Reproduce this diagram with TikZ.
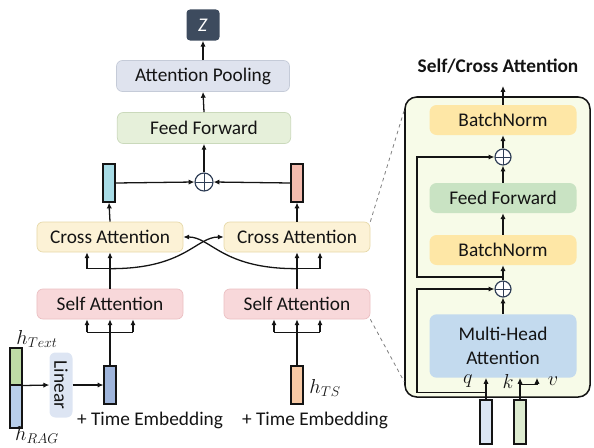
\documentclass[tikz,border=0pt]{standalone}
\usepackage{fontspec}
\setmainfont{Carlito}
\usetikzlibrary{arrows.meta,positioning,calc}
\definecolor{Ink}{HTML}{141414}
\definecolor{Navy}{HTML}{2F3E56}
\definecolor{Slate}{HTML}{3D4B5E}
\definecolor{PoolFill}{HTML}{DFE3EE}
\definecolor{PoolLine}{HTML}{C5CBD8}
\definecolor{FFFill}{HTML}{E6F0DA}
\definecolor{FFLine}{HTML}{CAD9BB}
\definecolor{CrossFill}{HTML}{FCF2D6}
\definecolor{CrossLine}{HTML}{E6D8A8}
\definecolor{SelfFill}{HTML}{F8D8DA}
\definecolor{SelfLine}{HTML}{EBBFC2}
\definecolor{Teal}{HTML}{A8DCE6}
\definecolor{Salmon}{HTML}{F4BBAE}
\definecolor{EmbBlue}{HTML}{9FB5DB}
\definecolor{TsOrange}{HTML}{F7C9A5}
\definecolor{TxtGreen}{HTML}{BEDCA5}
\definecolor{RagBlue}{HTML}{B9CFEA}
\definecolor{LinFill}{HTML}{DDE5F3}
\definecolor{Panel}{HTML}{F7FBE8}
\definecolor{BNFill}{HTML}{FEE7A6}
\definecolor{FF2Fill}{HTML}{C9E3C3}
\definecolor{MHAFill}{HTML}{C3DAEE}
\definecolor{QBar}{HTML}{DCE6F4}
\definecolor{KBar}{HTML}{DDEBD0}

\begin{document}
\begin{tikzpicture}[x=0.03cm, y=-0.03cm,
    font=\fontsize{16.5}{20}\selectfont, text=Ink,
    blk/.style={rounded corners=5pt, inner sep=0pt, align=center, line width=0.6pt, minimum width=4.38cm, minimum height=0.9cm},
    inner/.style={rounded corners=6pt, inner sep=0pt, align=center, minimum width=4.41cm, minimum height=0.9cm},
    bar/.style={draw=Ink, line width=0.9pt, inner sep=0pt, minimum width=0.36cm, minimum height=1.14cm},
    arr/.style={-{Latex[length=5pt,width=4.5pt]}, line width=1.1pt, draw=Ink},
    ln/.style={line width=1.1pt, draw=Ink},
    plus/.style={circle, draw=Navy, fill=white, line width=1pt, inner sep=0pt, minimum size=#1,
      path picture={\draw[Navy, line width=0.8pt] (path picture bounding box.north) -- (path picture bounding box.south)
        (path picture bounding box.west) -- (path picture bounding box.east);}},
    lbl/.style={inner sep=1pt}
  ]
  \useasboundingbox (0,0) rectangle (594,447);

  % right panel
  \node[draw=Ink, fill=Panel, rounded corners=10pt, line width=1.3pt, minimum width=5.55cm, minimum height=9cm] (panel) at (497.5,247) {};
  \node[font=\fontsize{16.5}{20}\selectfont\bfseries] (title) at (498,66) {Self/Cross Attention};
  \node[inner, fill=BNFill] (bn2) at (503,120) {BatchNorm};
  \node[plus=0.48cm] (plus2) at (503,157) {};
  \node[inner, fill=FF2Fill] (ff2) at (503,198) {Feed Forward};
  \node[inner, fill=BNFill] (bn1) at (503,250) {BatchNorm};
  \node[plus=0.48cm] (plus1) at (503,289) {};
  \node[inner, fill=MHAFill, minimum height=1.9cm] (mha) at (503,346) {Multi-Head\\Attention};
  \node[bar, fill=QBar, minimum height=1.32cm] (qbar) at (486,422) {};
  \node[bar, fill=KBar, minimum height=1.32cm] (kbar) at (520,422) {};
  \node[lbl] (ql) at (468,381) {$q$};
  \node[lbl] (kl) at (508,381) {$k$};
  \node[lbl] (vl) at (553,381) {$v$};
  \coordinate (out) at (503,86);

  \draw[arr] (bn2.north) -- (out);
  \draw[arr] (plus2.north) -- (bn2.south);
  \draw[arr] (ff2.north) -- (plus2.south);
  \draw[arr] (bn1.north) -- (ff2.south);
  \draw[arr] (plus1.north) -- (bn1.south);
  \draw[arr] (mha.north) -- (plus1.south);
  \draw[arr] (503,277) -- ++(-86,0) |- (plus2.west);
  \draw[arr] (qbar.north) -- (qbar.north |- mha.south);
  \draw[arr] ($(qbar.north)+(0,-7)$) -- ++(-69,0) |- (plus1.west);
  \draw[arr] (kbar.north) -- (kbar.north |- mha.south);
  \draw[arr] ($(kbar.north)+(0,-15)$) -| ($(mha.south)+(34,0)$);

  % left model
  \node[fill=Slate, rounded corners=3pt, minimum width=0.99cm, minimum height=0.93cm, text=white] (z) at (203,25) {\textit{Z}};
  \node[blk, fill=PoolFill, draw=PoolLine, minimum width=5.19cm, minimum height=0.93cm] (pool) at (203,76) {Attention Pooling};
  \node[blk, fill=FFFill, draw=FFLine, minimum width=5.2cm, minimum height=0.93cm] (ff) at (204,128) {Feed Forward};
  \node[plus=0.54cm] (sum) at (204,182) {};
  \node[bar, fill=Teal] (tbar) at (109,183) {};
  \node[bar, fill=Salmon] (pbar) at (297,183) {};
  \node[blk, fill=CrossFill, draw=CrossLine] (cross1) at (110,237) {Cross Attention};
  \node[blk, fill=CrossFill, draw=CrossLine] (cross2) at (297,237) {Cross Attention};
  \node[blk, fill=SelfFill, draw=SelfLine] (self1) at (110,304) {Self Attention};
  \node[blk, fill=SelfFill, draw=SelfLine] (self2) at (297,304) {Self Attention};
  \node[bar, fill=EmbBlue] (ebar) at (110,385) {};
  \node[bar, fill=TsOrange] (hbar) at (297,385) {};
  \node[bar, fill=TxtGreen, minimum height=1.11cm] (gtop) at (16,366.5) {};
  \node[bar, fill=RagBlue, minimum height=1.29cm] (gbot) at (16,406.5) {};
  \node[fill=LinFill, rounded corners=5pt, inner sep=0pt, minimum width=0.69cm, minimum height=1.95cm] (lin) at (61,385) {\rotatebox{-90}{Linear}};
  \node[lbl] (htext) at (37,339) {$h_{Text}$};
  \node[lbl] (hrag) at (37,435) {$h_{RAG}$};
  \node[lbl, anchor=west] (hts) at (308,388) {$h_{TS}$};
  \node (te1) at (150,420) {+ Time Embedding};
  \node (te2) at (315,420) {+ Time Embedding};

  \draw[arr] (z.south |- pool.north) -- (z.south);
  \draw[arr] (ff.north) -- (pool.south);
  \draw[arr] (sum.north) -- (ff.south);
  \draw[arr] (tbar.east) -- (sum.west);
  \draw[arr] (pbar.west) -- (sum.east);
  \draw[arr] (cross1.north) -- (tbar.south);
  \draw[arr] (cross2.north) -- (pbar.south);

  \coordinate (c1) at ($(self1.north)+(0,-20)$);
  \coordinate (c2) at ($(self2.north)+(0,-20)$);
  \draw[ln] (self1.north) -- (c1) -- ++(-23,0);
  \draw[ln] (self2.north) -- (c2) -- ++(23,0);
  \foreach \dx in {-23,0}
    \draw[arr] ($(c1)+(\dx,0)$) -- ($(cross1.south)+(\dx,0)$);
  \foreach \dx in {0,23}
    \draw[arr] ($(c2)+(\dx,0)$) -- ($(cross2.south)+(\dx,0)$);
  \draw[arr] (c1) .. controls (185,269) and (196,237) .. (cross2.west);
  \draw[arr] (c2) .. controls (222,269) and (211,237) .. (cross1.east);

  \coordinate (e1) at ($(ebar.north)+(0,-33)$);
  \coordinate (e2) at ($(hbar.north)+(0,-33)$);
  \draw[ln] (ebar.north) -- (e1);
  \draw[ln] ($(e1)+(-23,0)$) -- ($(e1)+(23,0)$);
  \draw[ln] (hbar.north) -- (e2);
  \draw[ln] ($(e2)+(-23,0)$) -- ($(e2)+(23,0)$);
  \foreach \dx in {-23,0,23} {
    \draw[arr] ($(e1)+(\dx,0)$) -- ($(self1.south)+(\dx,0)$);
    \draw[arr] ($(e2)+(\dx,0)$) -- ($(self2.south)+(\dx,0)$);
  }
  \draw[arr] (gtop.south east) -- (lin.west);
  \draw[arr] (lin.east) -- (ebar.west);

  \draw[dashed, gray, line width=0.7pt] (cross2.north east) -- ($(panel.north west)+(0,14)$);
  \draw[dashed, gray, line width=0.7pt] (self2.south east) -- ($(panel.south west)+(0,-16)$);
\end{tikzpicture}
\end{document}
